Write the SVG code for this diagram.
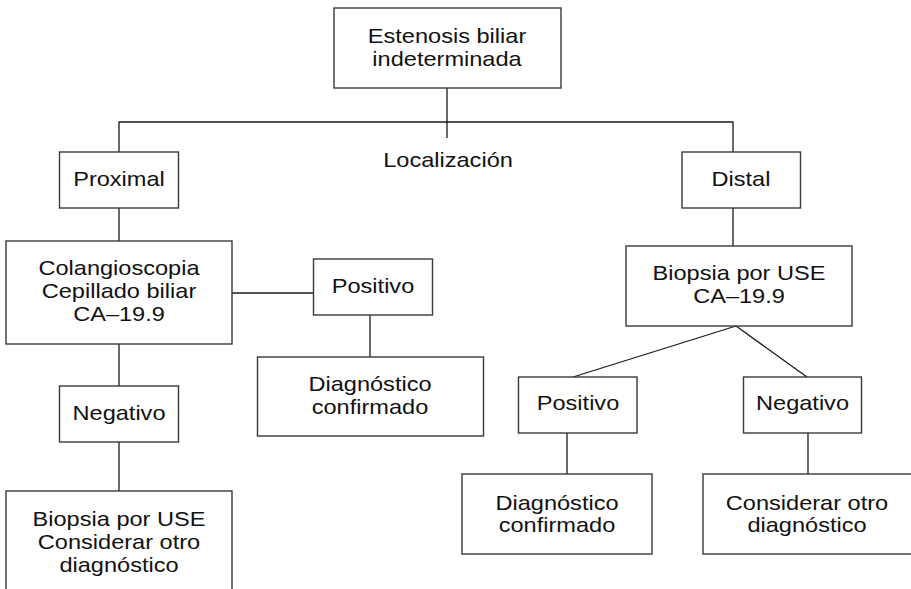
<svg xmlns="http://www.w3.org/2000/svg" width="911" height="589" viewBox="0 0 911 589">
<style>
.box{fill:#fff;stroke:#3a3a3a;stroke-width:1.4}
.ln{fill:none;stroke:#1a1a1a;stroke-width:1.3}
text{font-family:"Liberation Sans",Arial,sans-serif;font-size:20.5px;fill:#111;text-anchor:middle}
</style>
<rect width="911" height="589" fill="#fff"/>
<g id="connectors">
<line class="ln" x1="447" y1="88" x2="447" y2="138"/>
<polyline class="ln" points="119,152 119,122 733,122 733,152"/>
<line class="ln" x1="119" y1="208" x2="119" y2="241"/>
<line class="ln" x1="232" y1="293" x2="313" y2="293"/>
<line class="ln" x1="370" y1="315" x2="370" y2="357"/>
<line class="ln" x1="119" y1="344" x2="119" y2="386"/>
<line class="ln" x1="119" y1="442" x2="119" y2="491"/>
<line class="ln" x1="733" y1="208" x2="733" y2="246"/>
<line class="ln" x1="736" y1="326" x2="573" y2="377"/>
<line class="ln" x1="736" y1="326" x2="807" y2="377"/>
<line class="ln" x1="567" y1="433" x2="567" y2="474"/>
<line class="ln" x1="808" y1="433" x2="808" y2="474"/>
</g>
<g id="n-estenosis">
<rect class="box" x="334" y="8" width="227" height="80"/>
<text transform="translate(447,43) scale(1.15,1)">Estenosis biliar</text>
<text transform="translate(447,66) scale(1.15,1)">indeterminada</text>
</g>
<g id="n-localizacion">
<text transform="translate(448,167) scale(1.15,1)">Localización</text>
</g>
<g id="n-proximal">
<rect class="box" x="59.5" y="152" width="119" height="56"/>
<text transform="translate(119,186) scale(1.15,1)">Proximal</text>
</g>
<g id="n-colangio">
<rect class="box" x="6" y="241" width="226" height="103"/>
<text transform="translate(119,275) scale(1.15,1)">Colangioscopia</text>
<text transform="translate(119,298) scale(1.15,1)">Cepillado biliar</text>
<text transform="translate(119,321) scale(1.15,1)">CA–19.9</text>
</g>
<g id="n-positivo-l">
<rect class="box" x="313.5" y="259" width="119" height="56"/>
<text transform="translate(373,293) scale(1.15,1)">Positivo</text>
</g>
<g id="n-diag-l">
<rect class="box" x="257.5" y="357" width="226" height="79"/>
<text transform="translate(370,391) scale(1.15,1)">Diagnóstico</text>
<text transform="translate(370,414) scale(1.15,1)">confirmado</text>
</g>
<g id="n-negativo-l">
<rect class="box" x="59.5" y="386" width="119" height="56"/>
<text transform="translate(119,420) scale(1.15,1)">Negativo</text>
</g>
<g id="n-biopsia-l">
<rect class="box" x="6" y="491" width="226" height="110"/>
<text transform="translate(119,526) scale(1.15,1)">Biopsia por USE</text>
<text transform="translate(119,549) scale(1.15,1)">Considerar otro</text>
<text transform="translate(119,572) scale(1.15,1)">diagnóstico</text>
</g>
<g id="n-distal">
<rect class="box" x="682" y="152" width="118.5" height="56"/>
<text transform="translate(741,186) scale(1.15,1)">Distal</text>
</g>
<g id="n-biopsia-r">
<rect class="box" x="626" y="246" width="226" height="80"/>
<text transform="translate(739,280) scale(1.15,1)">Biopsia por USE</text>
<text transform="translate(739,303) scale(1.15,1)">CA–19.9</text>
</g>
<g id="n-positivo-r">
<rect class="box" x="518.5" y="377" width="118.5" height="56"/>
<text transform="translate(578,410) scale(1.15,1)">Positivo</text>
</g>
<g id="n-negativo-r">
<rect class="box" x="743.5" y="377" width="118" height="56"/>
<text transform="translate(802.5,410) scale(1.15,1)">Negativo</text>
</g>
<g id="n-diag-r">
<rect class="box" x="462" y="474" width="190" height="80"/>
<text transform="translate(557,510) scale(1.15,1)">Diagnóstico</text>
<text transform="translate(557,532) scale(1.15,1)">confirmado</text>
</g>
<g id="n-considerar">
<rect class="box" x="703" y="474" width="215" height="80"/>
<text transform="translate(807,510) scale(1.15,1)">Considerar otro</text>
<text transform="translate(807,532) scale(1.15,1)">diagnóstico</text>
</g>
</svg>
